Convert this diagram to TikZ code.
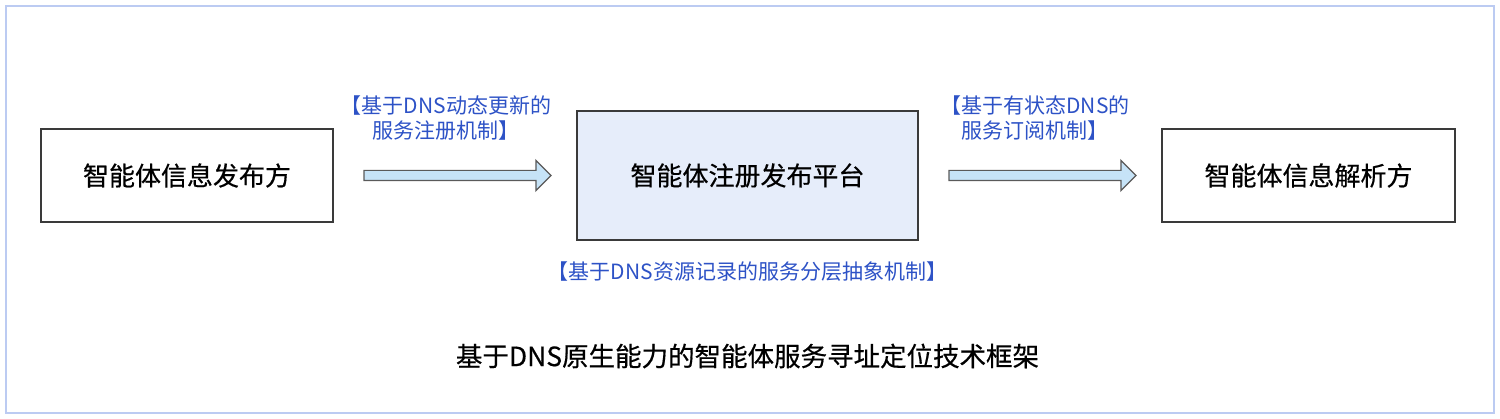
\documentclass[tikz,border=0pt]{standalone}
\usepackage{fontspec}
\setmainfont{Noto Sans CJK SC}
\newfontfamily\medfont[FakeBold=0.5]{Noto Sans CJK SC}
\usetikzlibrary{shapes.arrows}
\definecolor{framec}{HTML}{BCCBF2}
\definecolor{boxline}{HTML}{3A3A3A}
\definecolor{platfill}{HTML}{E6EDFA}
\definecolor{arrowfill}{HTML}{C6E3F7}
\definecolor{arrowline}{HTML}{5A5A5A}
\definecolor{labelblue}{HTML}{2D52C6}
\tikzset{
  x=1pt, y=-1pt,
  boxstyle/.style={draw=boxline, line width=1.4pt, fill=white, inner sep=0pt,
    font=\medfont\fontsize{26}{30}\selectfont, text=black},
  fatarrow/.style={single arrow, draw=arrowline, fill=arrowfill, line width=1.2pt,
    inner xsep=0pt, inner ysep=4.5pt, single arrow head extend=10pt,
    minimum height=187pt, single arrow tip angle=90},
  labelstyle/.style={text=labelblue, align=center, inner sep=0pt,
    font=\fontsize{21}{25}\selectfont},
}
\begin{document}
\begin{tikzpicture}
\useasboundingbox (0,0) rectangle (1500,419);
\draw[framec, line width=2pt] (6,6) rectangle (1494,413);
% boxes
\node[boxstyle, minimum width=292pt, minimum height=93pt] (pub) at (187,175.5) {智能体信息发布方};
\node[boxstyle, fill=platfill, minimum width=341pt, minimum height=129pt] (plat) at (747.5,175.5) {智能体注册发布平台};
\node[boxstyle, minimum width=293pt, minimum height=93pt] (res) at (1308.5,175.5) {智能体信息解析方};
% arrows
\path (pub.east) -- node[fatarrow] (a1) {} (plat.west);
\path (plat.east) -- node[fatarrow] (a2) {} (res.west);
% labels
\node[labelstyle, anchor=center] (l1) at (446,118) {【基于DNS动态更新的\\服务注册机制】};
\node[labelstyle, anchor=center] (l2) at (1035,118) {【基于有状态DNS的\\服务订阅机制】};
\node[labelstyle] (l3) at (747.5,272) {【基于DNS资源记录的服务分层抽象机制】};
% title
\node[inner sep=0pt, font=\medfont\fontsize{26.5}{30}\selectfont, text=black] (title) at (747.5,356) {基于DNS原生能力的智能体服务寻址定位技术框架};
\end{tikzpicture}
\end{document}
